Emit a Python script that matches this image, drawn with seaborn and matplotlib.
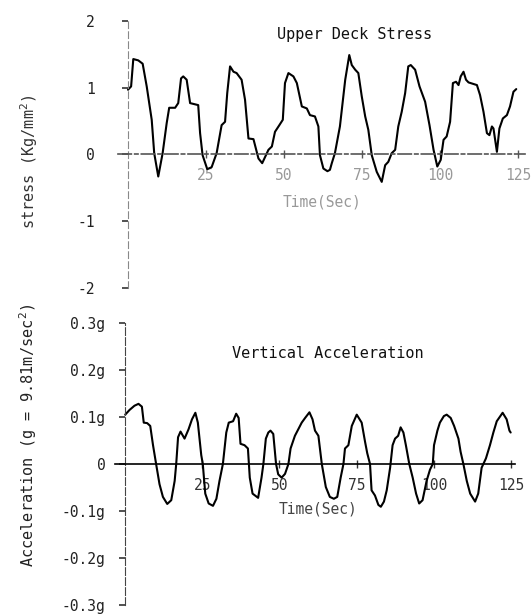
import matplotlib
matplotlib.use("Agg")
import numpy as np
import pandas as pd
import matplotlib.pyplot as plt
import seaborn as sns

# Upper deck stress trace (Kg/mm^2)
stress_time = [0.0, 1.0, 1.7, 3.3, 4.7, 6.0, 7.6, 8.4, 9.7, 11.1, 12.4, 13.2, 15.1, 16.1,
               17.0, 17.7, 18.8, 19.9, 22.5, 23.1, 23.9, 25.4, 26.8, 28.4, 30.0, 31.1,
               31.8, 32.7, 33.8, 34.8, 36.4, 37.5, 38.6, 40.2, 41.8, 43.0, 44.2, 45.0,
               46.1, 47.1, 48.5, 49.6, 50.3, 51.4, 53.0, 54.1, 55.7, 57.3, 58.3, 59.9,
               61.0, 61.5, 62.6, 63.9, 64.7, 65.3, 66.3, 67.9, 69.6, 70.9, 71.7, 72.8,
               73.8, 74.9, 76.0, 77.0, 78.1, 79.7, 81.3, 82.4, 83.4, 84.5, 85.6, 86.6,
               87.7, 88.8, 89.8, 90.6, 92.0, 93.4, 95.2, 96.6, 97.9, 99.1, 100.2, 101.1,
               102.1, 103.2, 104.1, 105.1, 105.9, 106.6, 107.5, 108.3, 109.1, 111.8,
               112.8, 113.9, 115.0, 115.8, 116.6, 117.1, 118.2, 119.0, 120.1, 121.4,
               122.4, 123.5, 124.4]
stress_vals = [0.97, 1.02, 1.43, 1.41, 1.36, 1.02, 0.52, 0.02, -0.33, 0.02, 0.47, 0.70, 0.70,
               0.77, 1.14, 1.17, 1.12, 0.77, 0.74, 0.32, -0.01, -0.22, -0.19, 0.02, 0.44,
               0.49, 0.92, 1.32, 1.24, 1.22, 1.12, 0.82, 0.24, 0.23, -0.06, -0.13, -0.01,
               0.07, 0.12, 0.34, 0.44, 0.52, 1.07, 1.22, 1.17, 1.07, 0.72, 0.69, 0.59,
               0.57, 0.42, -0.01, -0.21, -0.25, -0.23, -0.13, 0.02, 0.42, 1.12, 1.49,
               1.34, 1.27, 1.22, 0.87, 0.57, 0.37, -0.01, -0.26, -0.41, -0.16, -0.11,
               0.02, 0.07, 0.42, 0.64, 0.92, 1.32, 1.34, 1.27, 1.02, 0.79, 0.44, 0.07,
               -0.18, -0.08, 0.22, 0.27, 0.49, 1.07, 1.09, 1.04, 1.17, 1.24, 1.12, 1.08,
               1.04, 0.89, 0.64, 0.32, 0.29, 0.42, 0.39, 0.04, 0.39, 0.54, 0.59, 0.72,
               0.94, 0.98]

# Vertical acceleration trace (in g)
accel_time = [0.1, 1.5, 3.1, 4.4, 5.5, 6.1, 7.2, 8.2, 9.1, 10.1, 11.2, 12.3, 13.7, 15.0,
              16.1, 16.6, 17.2, 18.0, 19.3, 20.6, 21.7, 22.8, 23.6, 24.7, 25.2, 26.0,
              27.1, 28.5, 29.6, 30.6, 31.7, 32.8, 33.6, 35.0, 36.0, 36.8, 37.4, 38.7,
              39.8, 40.4, 41.3, 43.1, 44.2, 44.8, 45.6, 46.4, 47.1, 48.0, 48.9, 49.6,
              50.7, 51.8, 52.9, 53.6, 55.0, 56.1, 57.2, 58.3, 59.7, 60.7, 61.5, 62.6,
              63.7, 65.0, 66.3, 67.6, 68.7, 69.8, 70.7, 71.2, 72.3, 73.4, 75.0, 76.6,
              77.7, 78.4, 79.3, 79.8, 80.9, 82.0, 82.8, 83.8, 84.7, 85.8, 86.6, 87.4,
              88.4, 89.2, 90.1, 90.9, 92.0, 93.1, 94.2, 95.2, 96.3, 97.6, 98.7, 99.6,
              100.0, 101.1, 101.9, 103.2, 104.1, 105.4, 106.5, 107.9, 108.6, 109.5,
              110.6, 111.7, 113.3, 114.3, 115.4, 116.8, 118.1, 119.2, 120.3, 122.2,
              123.5, 124.4, 124.8]
accel_vals = [0.105, 0.115, 0.124, 0.128, 0.122, 0.088, 0.087, 0.081, 0.040, 0.0, -0.043,
              -0.070, -0.085, -0.077, -0.036, 0.0, 0.057, 0.069, 0.054, 0.074, 0.095,
              0.109, 0.088, 0.019, 0.0, -0.063, -0.084, -0.089, -0.074, -0.036, 0.0,
              0.067, 0.088, 0.091, 0.107, 0.098, 0.043, 0.040, 0.033, -0.029, -0.063,
              -0.072, -0.029, 0.0, 0.054, 0.067, 0.071, 0.064, 0.0, -0.022, -0.029,
              -0.021, 0.0, 0.033, 0.060, 0.074, 0.088, 0.098, 0.110, 0.095, 0.071,
              0.060, 0.0, -0.049, -0.070, -0.074, -0.070, -0.029, 0.0, 0.033, 0.040,
              0.081, 0.105, 0.088, 0.047, 0.023, 0.0, -0.056, -0.067, -0.087, -0.091,
              -0.080, -0.056, -0.008, 0.040, 0.054, 0.060, 0.078, 0.067, 0.040, 0.0,
              -0.029, -0.063, -0.084, -0.077, -0.036, -0.012, 0.0, 0.040, 0.071, 0.088,
              0.102, 0.105, 0.098, 0.081, 0.054, 0.026, 0.0, -0.036, -0.063, -0.080,
              -0.063, -0.008, 0.012, 0.040, 0.067, 0.091, 0.109, 0.095, 0.071, 0.067]

time_ticks = [25, 50, 75, 100, 125]
time_labels = ["25", "50", "75", "100", "125"]
stress_ticks = [2, 1, 0, -1, -2]
stress_labels = ["2", "1", "0", "-1", "-2"]
accel_ticks = [0.3, 0.2, 0.1, 0, -0.1, -0.2, -0.3]
accel_labels = ["0.3g", "0.2g", "0.1g", "0", "-0.1g", "-0.2g", "-0.3g"]

sns.set_style("white")
plt.rcParams["font.family"] = ["DejaVu Sans Mono", "DejaVu Sans"]
plt.rcParams["mathtext.fontset"] = "dejavusans"

stress_df = pd.DataFrame({"time": stress_time, "stress": stress_vals})
accel_df = pd.DataFrame({"time": accel_time, "accel": accel_vals})

fig = plt.figure(figsize=(5.31, 6.16), dpi=100)
ax1 = fig.add_axes([118 / 531, 1 - 288 / 616, 407 / 531, 267 / 616])
ax2 = fig.add_axes([115 / 531, 1 - 605 / 616, 400 / 531, 282 / 616])
for ax in (ax1, ax2):
    ax.patch.set_alpha(0)

# Upper deck stress
sns.lineplot(data=stress_df, x="time", y="stress", ax=ax1, color="black",
             linewidth=1.5, estimator=None)
ax1.set_xlim(-3.2, 127.2)
ax1.set_ylim(-2, 2)
ax1.spines["top"].set_visible(False)
ax1.spines["right"].set_visible(False)
ax1.spines["left"].set_position(("data", 0))
ax1.spines["bottom"].set_position(("data", 0))
ax1.spines["left"].set_linestyle((0, (6, 3)))
ax1.spines["left"].set_color("#888888")
ax1.spines["bottom"].set_linestyle((0, (8, 2, 2, 2)))
ax1.spines["bottom"].set_color("#555555")
ax1.spines["bottom"].set_linewidth(1.2)
ax1.set_xticks(time_ticks)
ax1.set_xticklabels(time_labels, color="#999999", fontsize=10.5)
ax1.set_yticks(stress_ticks)
ax1.set_yticklabels(stress_labels, color="#222222", fontsize=10.5)
ax1.tick_params(axis="x", bottom=True, direction="inout", length=6, width=1,
                color="#555555", pad=7)
ax1.tick_params(axis="y", left=True, direction="out", length=4, width=1.2,
                color="#333333", pad=20)
ax1.set_xlabel("")
ax1.set_ylabel("")
ax1.text(0.582, 0.951, "Upper Deck Stress", transform=ax1.transAxes,
         ha="center", va="center", fontsize=11, color="#111111")
ax1.text(0.501, 0.322, "Time(Sec)", transform=ax1.transAxes,
         ha="center", va="center", fontsize=10.5, color="#999999")

# Vertical acceleration
sns.lineplot(data=accel_df, x="time", y="accel", ax=ax2, color="black",
             linewidth=1.5, estimator=None)
ax2.set_xlim(-3.2, 126.2)
ax2.set_ylim(-0.3, 0.3)
ax2.spines["top"].set_visible(False)
ax2.spines["right"].set_visible(False)
ax2.spines["left"].set_position(("data", 0))
ax2.spines["bottom"].set_position(("data", 0))
ax2.spines["left"].set_linestyle((0, (7, 2)))
ax2.spines["left"].set_color("#444444")
ax2.spines["bottom"].set_color("black")
ax2.spines["bottom"].set_linewidth(1.2)
ax2.set_xticks(time_ticks)
ax2.set_xticklabels(time_labels, color="#333333", fontsize=10.5)
ax2.set_yticks(accel_ticks)
ax2.set_yticklabels(accel_labels, color="#222222", fontsize=10.5)
ax2.tick_params(axis="x", bottom=True, direction="inout", length=6, width=1,
                color="#333333", pad=7)
ax2.tick_params(axis="y", left=True, direction="out", length=4, width=1.2,
                color="#333333", pad=10)
ax2.set_xlabel("")
ax2.set_ylabel("")
ax2.text(0.533, 0.893, "Vertical Acceleration", transform=ax2.transAxes,
         ha="center", va="center", fontsize=11, color="#111111")
ax2.text(0.508, 0.342, "Time(Sec)", transform=ax2.transAxes,
         ha="center", va="center", fontsize=10.5, color="#444444")

fig.text(29 / 531, 1 - 162 / 616, r"stress (Kg/mm$^2$)", rotation=90,
         ha="center", va="center", fontsize=11, color="#333333")
fig.text(28 / 531, 1 - 435 / 616, r"Acceleration (g = 9.81m/sec$^2$)", rotation=90,
         ha="center", va="center", fontsize=11, color="#222222")

fig.savefig("out.png", dpi=100)
